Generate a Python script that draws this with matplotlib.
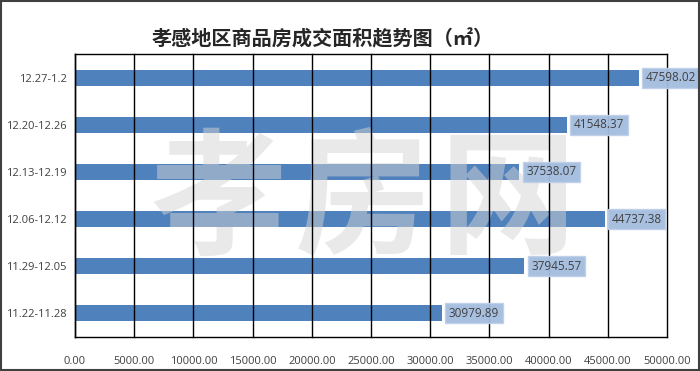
import matplotlib.pyplot as plt
from matplotlib.patches import Rectangle

plt.rcParams['font.family'] = ['Noto Sans CJK SC', 'DejaVu Sans']

weeks = ['11.22-11.28', '11.29-12.05', '12.06-12.12', '12.13-12.19', '12.20-12.26', '12.27-1.2']
area = [30979.89, 37945.57, 44737.38, 37538.07, 41548.37, 47598.02]
xticks = list(range(0, 50001, 5000))

fig = plt.figure(figsize=(7, 3.71), dpi=100)
ax = fig.add_axes([75/700, 1-337/371, 592/700, 283/371])

y = range(len(weeks))
ax.barh(y, area, height=0.34, color='#4F81BD', zorder=3)
ax.set_xlim(0, 50000)
ax.set_ylim(-0.5, len(weeks) - 0.5)
ax.set_yticks(list(y))
ax.set_yticklabels(weeks, fontsize=8, color='#404040', family=['Open Sans'])
ax.set_xticks(xticks)
ax.set_xticklabels(['%.2f' % v for v in xticks], fontsize=8, color='#404040', family=['Open Sans'])
ax.tick_params(axis='y', length=0, pad=6)
ax.tick_params(axis='x', length=0, pad=14)
for xv in xticks:
    ax.axvline(xv, color='black', lw=1, zorder=4.5, clip_on=False)
for s in ax.spines.values():
    s.set_color('black')
    s.set_linewidth(1)
    s.set_zorder(4.5)
ax.spines['right'].set_visible(False)
ax.patch.set_alpha(0)

# 水印（盖在柱子上，网格线在其上）
for ch, cx in zip('孝房网', [218, 363, 508]):
    ax.text(cx/700, 1-203/371, ch, transform=fig.transFigure, fontsize=98, fontweight='bold',
            color='#d4d4d4', alpha=0.5, ha='center', va='center', zorder=4, clip_on=False)

for i, v in enumerate(area):
    ax.text(v + 600, i, '%.2f' % v, fontsize=8.5, color='#404040', va='center', ha='left',
            family=['Open Sans'], zorder=5, clip_on=False,
            bbox=dict(boxstyle='square,pad=0.3', fc='#A3BDDF', ec='#BFD0E8', lw=1, alpha=0.95))

fig.text(323/700, 1-39/371, '孝感地区商品房成交面积趋势图（㎡）', fontsize=14.5,
         ha='center', va='center', color='#262626', fontweight='bold')

fig.add_artist(Rectangle((0.0015, 0.003), 0.997, 0.994, transform=fig.transFigure,
                         fill=False, ec='#404040', lw=1.5))

fig.savefig('out.png', dpi=100)
